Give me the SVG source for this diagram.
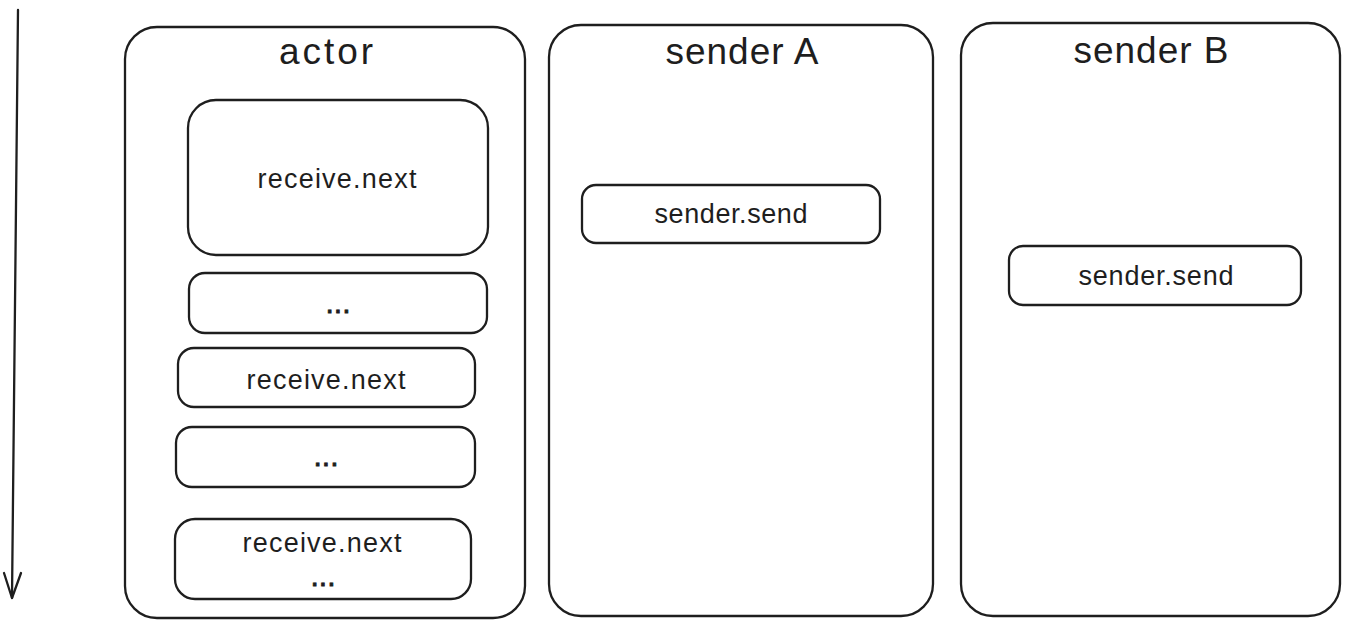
<svg xmlns="http://www.w3.org/2000/svg" width="1350" height="628" viewBox="0 0 1350 628">
  <style>
    .box { fill: none; stroke: #1e1e1e; stroke-width: 2.3; stroke-linejoin: round; }
    .line { fill: none; stroke: #1e1e1e; stroke-width: 2.3; stroke-linecap: round; stroke-linejoin: round; }
    .title { font-family: "Liberation Sans", Arial, sans-serif; font-size: 37px; fill: #1e1e1e; text-anchor: middle; }
    .label { font-family: "Liberation Sans", Arial, sans-serif; font-size: 27px; fill: #1e1e1e; text-anchor: middle; }
    .dots { font-size: 30px; stroke: #1e1e1e; stroke-width: 0.8; }
  </style>
  <rect width="1350" height="628" fill="#ffffff"/>

  <g id="connectors">
    <path class="line" d="M 18 10 L 12 598"/>
    <path class="line" d="M 4 573 L 12 598 L 21 573"/>
  </g>

  <g id="actor">
    <rect class="box" x="125" y="27" width="400" height="591" rx="32" ry="32"/>
    <text class="title" x="326" y="64" textLength="94" lengthAdjust="spacing">actor</text>
  </g>
  <g id="actor-receive-1">
    <rect class="box" x="188" y="100" width="300" height="155" rx="28" ry="28"/>
    <text class="label" x="337" y="188" textLength="159" lengthAdjust="spacing">receive.next</text>
  </g>
  <g id="actor-dots-1">
    <rect class="box" x="189" y="273" width="298" height="60" rx="16" ry="16"/>
    <text class="label dots" x="338" y="313">...</text>
  </g>
  <g id="actor-receive-2">
    <rect class="box" x="178" y="348" width="297" height="59" rx="16" ry="16"/>
    <text class="label" x="326" y="389" textLength="159" lengthAdjust="spacing">receive.next</text>
  </g>
  <g id="actor-dots-2">
    <rect class="box" x="176" y="427" width="299" height="60" rx="16" ry="16"/>
    <text class="label dots" x="326" y="466">...</text>
  </g>
  <g id="actor-receive-3">
    <rect class="box" x="175" y="519" width="296" height="80" rx="20" ry="20"/>
    <text class="label" x="322" y="552" textLength="159" lengthAdjust="spacing">receive.next</text>
    <text class="label dots" x="323" y="586">...</text>
  </g>

  <g id="sender-a">
    <rect class="box" x="549" y="25" width="384" height="591" rx="32" ry="32"/>
    <text class="title" x="742" y="64" textLength="153" lengthAdjust="spacing">sender A</text>
  </g>
  <g id="sender-a-send">
    <rect class="box" x="582" y="185" width="298" height="58" rx="14" ry="14"/>
    <text class="label" x="731" y="223" textLength="153" lengthAdjust="spacing">sender.send</text>
  </g>

  <g id="sender-b">
    <rect class="box" x="961" y="23" width="379" height="593" rx="32" ry="32"/>
    <text class="title" x="1151" y="63" textLength="155" lengthAdjust="spacing">sender B</text>
  </g>
  <g id="sender-b-send">
    <rect class="box" x="1009" y="246" width="292" height="59" rx="14" ry="14"/>
    <text class="label" x="1156" y="285" textLength="155" lengthAdjust="spacing">sender.send</text>
  </g>
</svg>
